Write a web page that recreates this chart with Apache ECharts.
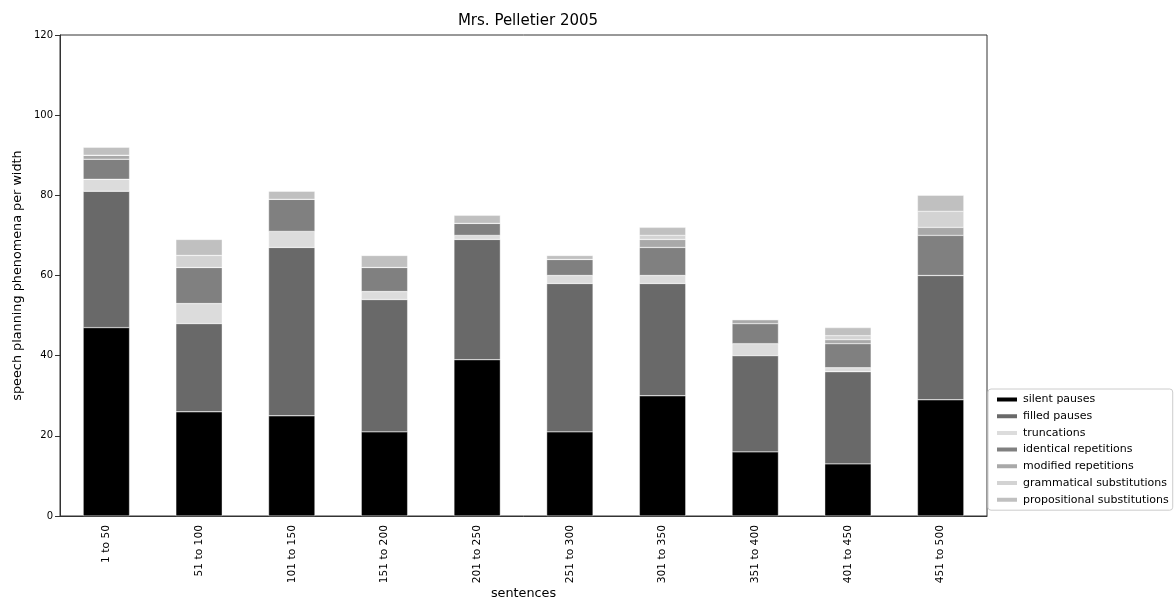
<!DOCTYPE html>
<html><head><meta charset="utf-8">
<script src="https://cdn.jsdelivr.net/npm/echarts@6/dist/echarts.min.js"></script>
<style>html,body{margin:0;padding:0;background:#fff}#c{width:1175px;height:601px}</style>
</head><body><div id="c"></div>
<script>
const categories = ['1 to 50','51 to 100','101 to 150','151 to 200','201 to 250','251 to 300','301 to 350','351 to 400','401 to 450','451 to 500'];
const seriesNames = ['silent pauses','filled pauses','truncations','identical repetitions','modified repetitions','grammatical substitutions','propositional substitutions'];
const silentPauses = [47, 26, 25, 21, 39, 21, 30, 16, 13, 29];
const filledPauses = [34, 22, 42, 33, 30, 37, 28, 24, 23, 31];
const truncations = [3, 5, 4, 2, 1, 2, 2, 3, 1, 0];
const identicalRepetitions = [5, 9, 8, 6, 3, 4, 7, 5, 6, 10];
const modifiedRepetitions = [1, 0, 0, 0, 0, 0, 2, 1, 1, 2];
const grammaticalSubstitutions = [0, 3, 0, 0, 0, 0, 1, 0, 1, 4];
const propositionalSubstitutions = [2, 4, 2, 3, 2, 1, 2, 0, 2, 4];
const yTicks = [0, 20, 40, 60, 80, 100, 120];

const colors = ['#000000','#696969','#dcdcdc','#808080','#a9a9a9','#d3d3d3','#c0c0c0'];
const allData = [silentPauses, filledPauses, truncations, identicalRepetitions, modifiedRepetitions, grammaticalSubstitutions, propositionalSubstitutions];
const font = 'DejaVu Sans';
const chart = echarts.init(document.getElementById('c'));
chart.setOption({
  animation: false,
  title: { text: 'Mrs. Pelletier 2005', left: 523, top: 9, textAlign: 'center',
    textStyle: { fontFamily: font, fontSize: 15, fontWeight: 'normal', color: '#000' } },
  grid: { left: 60, right: 188, top: 35, bottom: 85, show: true, borderColor: '#333', borderWidth: 1,
    containLabel: false, outerBoundsMode: 'none' },
  legend: {
    orient: 'vertical', left: 988, top: 389, data: seriesNames,
    itemWidth: 22, itemHeight: 6, itemGap: 5.7,
    padding: [5, 4, 5, 7],
    borderColor: '#cccccc', borderWidth: 1, borderRadius: 3,
    icon: 'rect',
    textStyle: { fontFamily: font, fontSize: 11, color: '#000' }
  },
  xAxis: {
    type: 'category', data: categories,
    name: 'sentences', nameLocation: 'middle', nameGap: 71, nameMoveOverlap: false,
    nameTextStyle: { fontFamily: font, fontSize: 12.8, color: '#000' },
    axisLine: { lineStyle: { color: '#333' } },
    axisTick: { alignWithLabel: true, length: 5, lineStyle: { color: '#333' } },
    axisLabel: { rotate: 90, fontFamily: font, fontSize: 10.7, color: '#000', margin: 9 }
  },
  yAxis: {
    type: 'value', min: 0, max: 120, interval: 20,
    name: 'speech planning phenomena per width', nameLocation: 'middle', nameGap: 36, nameRotate: 90,
    nameMoveOverlap: false,
    nameTextStyle: { fontFamily: font, fontSize: 12.8, color: '#000' },
    splitLine: { show: false },
    axisLine: { show: true, lineStyle: { color: '#333' } },
    axisTick: { show: true, length: 5, lineStyle: { color: '#333' } },
    axisLabel: { fontFamily: font, fontSize: 10, color: '#000', margin: 7,
      formatter: v => yTicks.includes(v) ? String(v) : '' }
  },
  series: seriesNames.map((n, i) => ({
    name: n, type: 'bar', stack: 'total', barWidth: '50%',
    data: allData[i],
    itemStyle: { color: colors[i], borderColor: '#ffffff', borderWidth: 0.4 }
  }))
});
</script></body></html>
